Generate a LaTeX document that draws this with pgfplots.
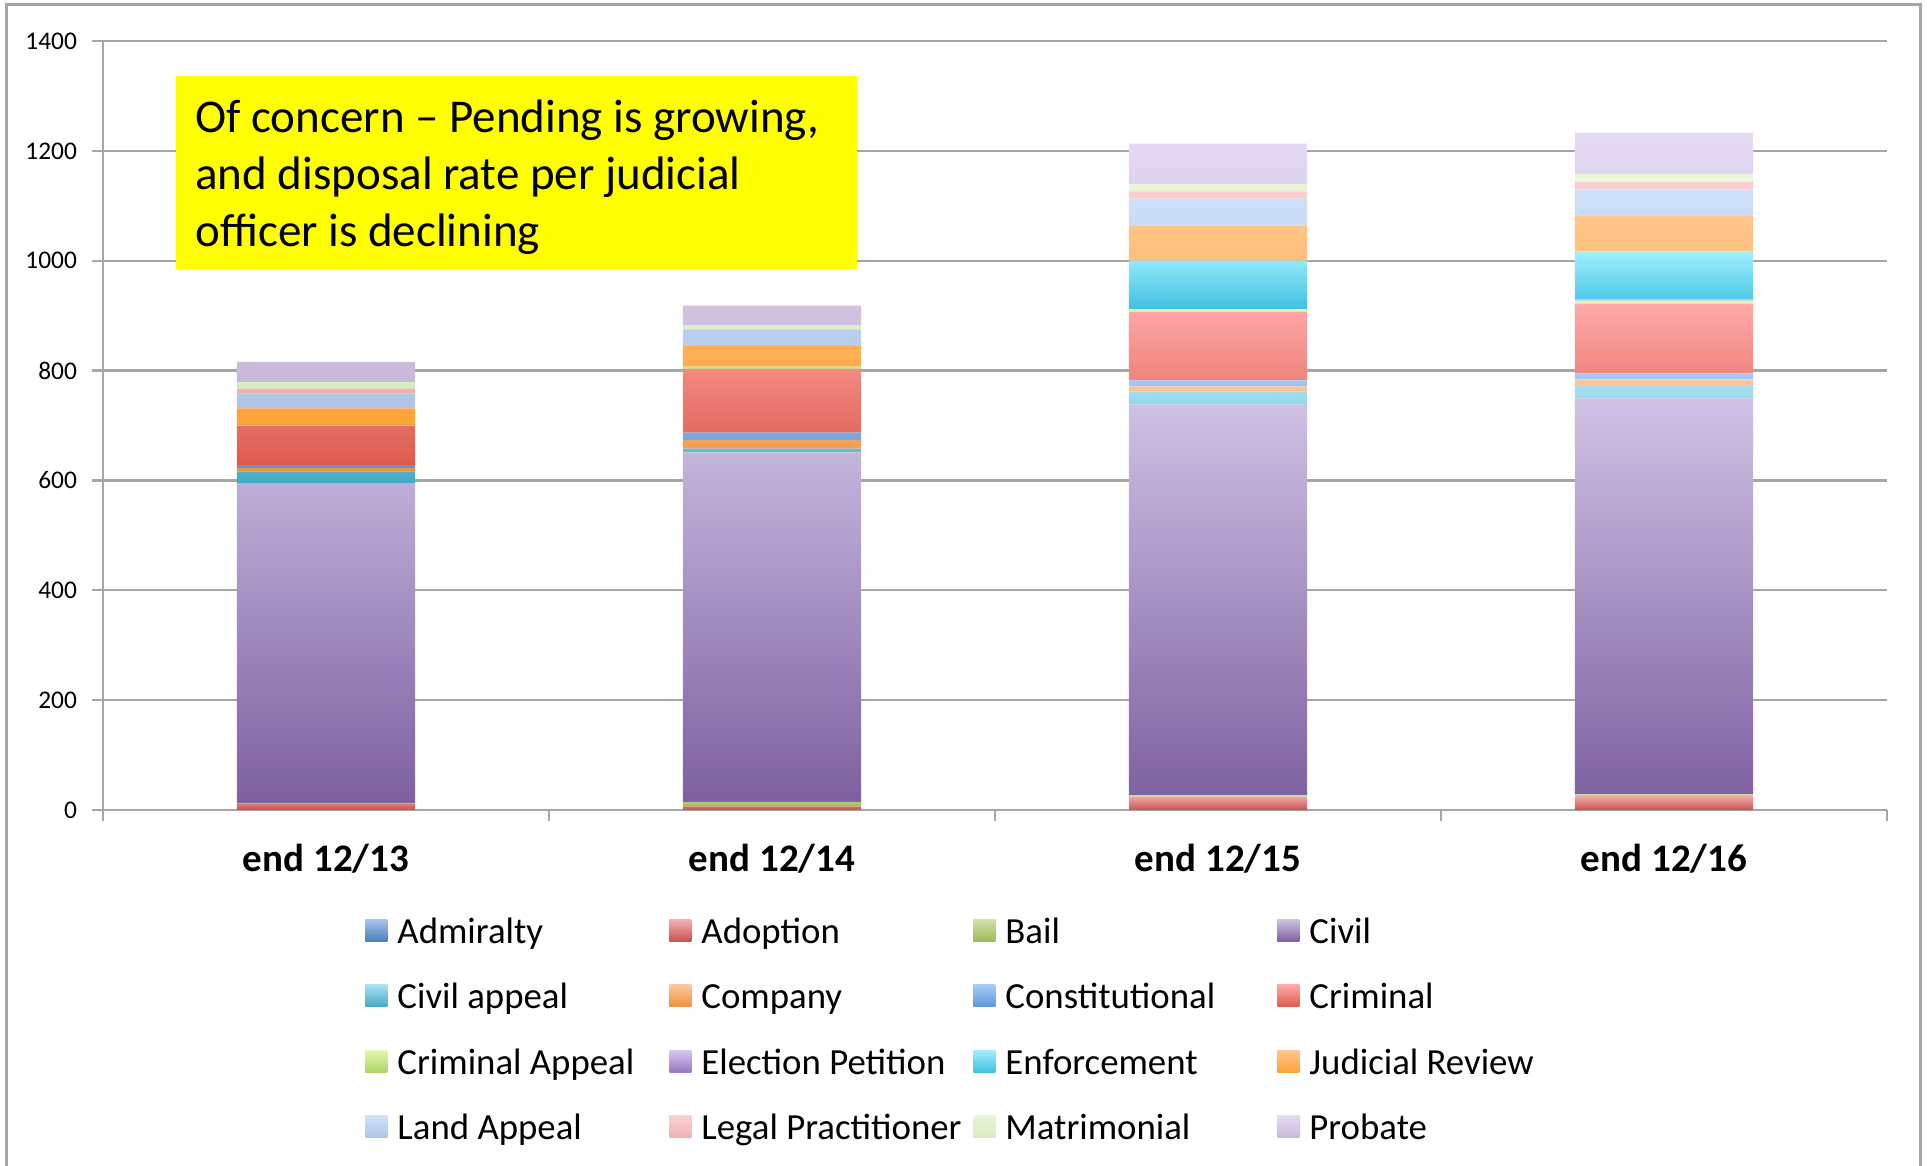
\documentclass[border=0pt]{standalone}
\usepackage{pgfplots}
\pgfplotsset{compat=1.18}
\usepackage{pgfplotstable}
\usepackage{fontspec}
\setmainfont{Carlito}

\definecolor{gridgray}{HTML}{A6A6A6}
\definecolor{boxyellow}{HTML}{FFFF00}
% gradient pairs: top, bottom
\definecolor{admT}{HTML}{A9C4EB}   \definecolor{admB}{HTML}{4A7EBB}
\definecolor{adopT}{HTML}{F4B0B0}  \definecolor{adopB}{HTML}{C8524E}
\definecolor{bailT}{HTML}{D0E2A8}  \definecolor{bailB}{HTML}{9BBB59}
\definecolor{civT}{HTML}{CEC2E4}   \definecolor{civB}{HTML}{7D60A0}
\definecolor{capT}{HTML}{A8E0F0}   \definecolor{capB}{HTML}{43A9C4}
\definecolor{compT}{HTML}{FBC8A0}  \definecolor{compB}{HTML}{EE9138}
\definecolor{constT}{HTML}{A6CCF7} \definecolor{constB}{HTML}{5C95DB}
\definecolor{crimT}{HTML}{FFA9A9}  \definecolor{crimB}{HTML}{DD5A4C}
\definecolor{crapT}{HTML}{E3F7AE}  \definecolor{crapB}{HTML}{AFD463}
\definecolor{elecT}{HTML}{D6C5EE}  \definecolor{elecB}{HTML}{9878C0}
\definecolor{enfT}{HTML}{A0F0FD}   \definecolor{enfB}{HTML}{3FC0E0}
\definecolor{jrT}{HTML}{FFC68C}    \definecolor{jrB}{HTML}{FFA236}
\definecolor{landT}{HTML}{CEE0FA}  \definecolor{landB}{HTML}{B0C4E6}
\definecolor{legT}{HTML}{FCD0D0}   \definecolor{legB}{HTML}{EBB2B2}
\definecolor{matT}{HTML}{EAF6D8}   \definecolor{matB}{HTML}{D8EBBE}
\definecolor{probT}{HTML}{E4DAF4}  \definecolor{probB}{HTML}{C9B8D8}

% pending cases per category (stack order = legend order)
\pgfplotstableread{
x adm adop bail civil cappeal comp const crim crapp elec enf jr land legal matr prob
0 0 11 2 581 22  7  5  71 1 1  0 30 27  9 12 37
1 0  6 9 636  7 16 13 116 4 0  0 38 30  0  8 35
2 0 24 3 711 24  9 11 125 5 0 88 64 49 13 14 73
3 0 27 2 720 23 12 11 127 5 2 88 64 49 13 15 75
}\pending

\pgfplotsset{
  s/.style={draw=none, top color=#1T, bottom color=#1B},
}

\begin{document}
\begin{tikzpicture}
\path[use as bounding box] (0,0) rectangle (963.5pt,583pt);
\begin{axis}[
    at={(51.5pt,178pt)}, anchor=south west,
    scale only axis, width=892pt, height=384.5pt,
    ybar stacked, bar width=0.4,
    xmin=-0.5, xmax=3.5, ymin=0, ymax=1400,
    xtick={-0.5,0.5,1.5,2.5,3.5}, xticklabels={},
    extra x ticks={0,1,2,3},
    extra x tick labels={end 12/13, end 12/14, end 12/15, end 12/16},
    extra x tick style={major tick length=0pt},
    ytick={0,200,...,1400},
    axis lines*=left,
    axis line style={draw=gridgray, line width=1.2pt},
    ymajorgrids,
    grid style={draw=gridgray, line width=1.2pt},
    tick align=outside, major tick length=5.5pt,
    tick style={draw=gridgray, line width=1.2pt},
    /pgf/number format/assume math mode=true,
    /pgf/number format/1000 sep={},
    yticklabel style={font=\fontsize{12.7}{14}\selectfont, xshift=-4pt},
    xticklabel style={font=\bfseries\fontsize{19.5}{22}\selectfont, anchor=base, yshift=-31pt},
    legend columns=4,
    legend style={at={(rel axis cs:0.1469,-0.1365)}, anchor=north west,
      draw=none, fill=none, inner sep=0pt, row sep=14.75pt,
      font=\fontsize{18.4}{22}\selectfont,
      nodes={inner sep=0pt, text height=14pt, text depth=4pt, anchor=base west},
      /tikz/every odd column/.append style={column sep=5pt}},
    legend image code/.code={\path[#1] (0pt,1pt) rectangle (11pt,12pt);},
  ]
\addplot[s=adm] table[x=x, y=adm] {\pending};
\addlegendentry{\makebox[136pt][l]{Admiralty}}
\addplot[s=adop] table[x=x, y=adop] {\pending};
\addlegendentry{\makebox[136pt][l]{Adoption}}
\addplot[s=bail] table[x=x, y=bail] {\pending};
\addlegendentry{\makebox[136pt][l]{Bail}}
\addplot[s=civ] table[x=x, y=civil] {\pending};
\addlegendentry{Civil}
\addplot[s=cap] table[x=x, y=cappeal] {\pending};
\addlegendentry{\makebox[136pt][l]{Civil appeal}}
\addplot[s=comp] table[x=x, y=comp] {\pending};
\addlegendentry{\makebox[136pt][l]{Company}}
\addplot[s=const] table[x=x, y=const] {\pending};
\addlegendentry{\makebox[136pt][l]{Constitutional}}
\addplot[s=crim] table[x=x, y=crim] {\pending};
\addlegendentry{Criminal}
\addplot[s=crap] table[x=x, y=crapp] {\pending};
\addlegendentry{\makebox[136pt][l]{Criminal Appeal}}
\addplot[s=elec] table[x=x, y=elec] {\pending};
\addlegendentry{\makebox[136pt][l]{Election Petition}}
\addplot[s=enf] table[x=x, y=enf] {\pending};
\addlegendentry{\makebox[136pt][l]{Enforcement}}
\addplot[s=jr] table[x=x, y=jr] {\pending};
\addlegendentry{Judicial Review}
\addplot[s=land] table[x=x, y=land] {\pending};
\addlegendentry{\makebox[136pt][l]{Land Appeal}}
\addplot[s=leg] table[x=x, y=legal] {\pending};
\addlegendentry{\makebox[136pt][l]{Legal Practitioner}}
\addplot[s=mat] table[x=x, y=matr] {\pending};
\addlegendentry{\makebox[136pt][l]{Matrimonial}}
\addplot[s=prob] table[x=x, y=prob] {\pending};
\addlegendentry{Probate}
\end{axis}
% yellow note
\fill[boxyellow] (88pt,448.5pt) rectangle (428.5pt,545pt);
\begin{scope}[every node/.style={anchor=base west, inner sep=0pt, font=\fontsize{23.5}{28}\selectfont}]
\node at (97.5pt,516.7pt) {Of concern \textendash{} Pending is growing,};
\node at (97.5pt,488.2pt) {and disposal rate per judicial};
\node at (97.5pt,459.7pt) {officer is declining};
\end{scope}
% outer frame
\draw[gridgray, line width=1.5pt] (3pt,0pt) -- (3pt,580.5pt) -- (960.3pt,580.5pt) -- (960.3pt,0pt);
\end{tikzpicture}
\end{document}
